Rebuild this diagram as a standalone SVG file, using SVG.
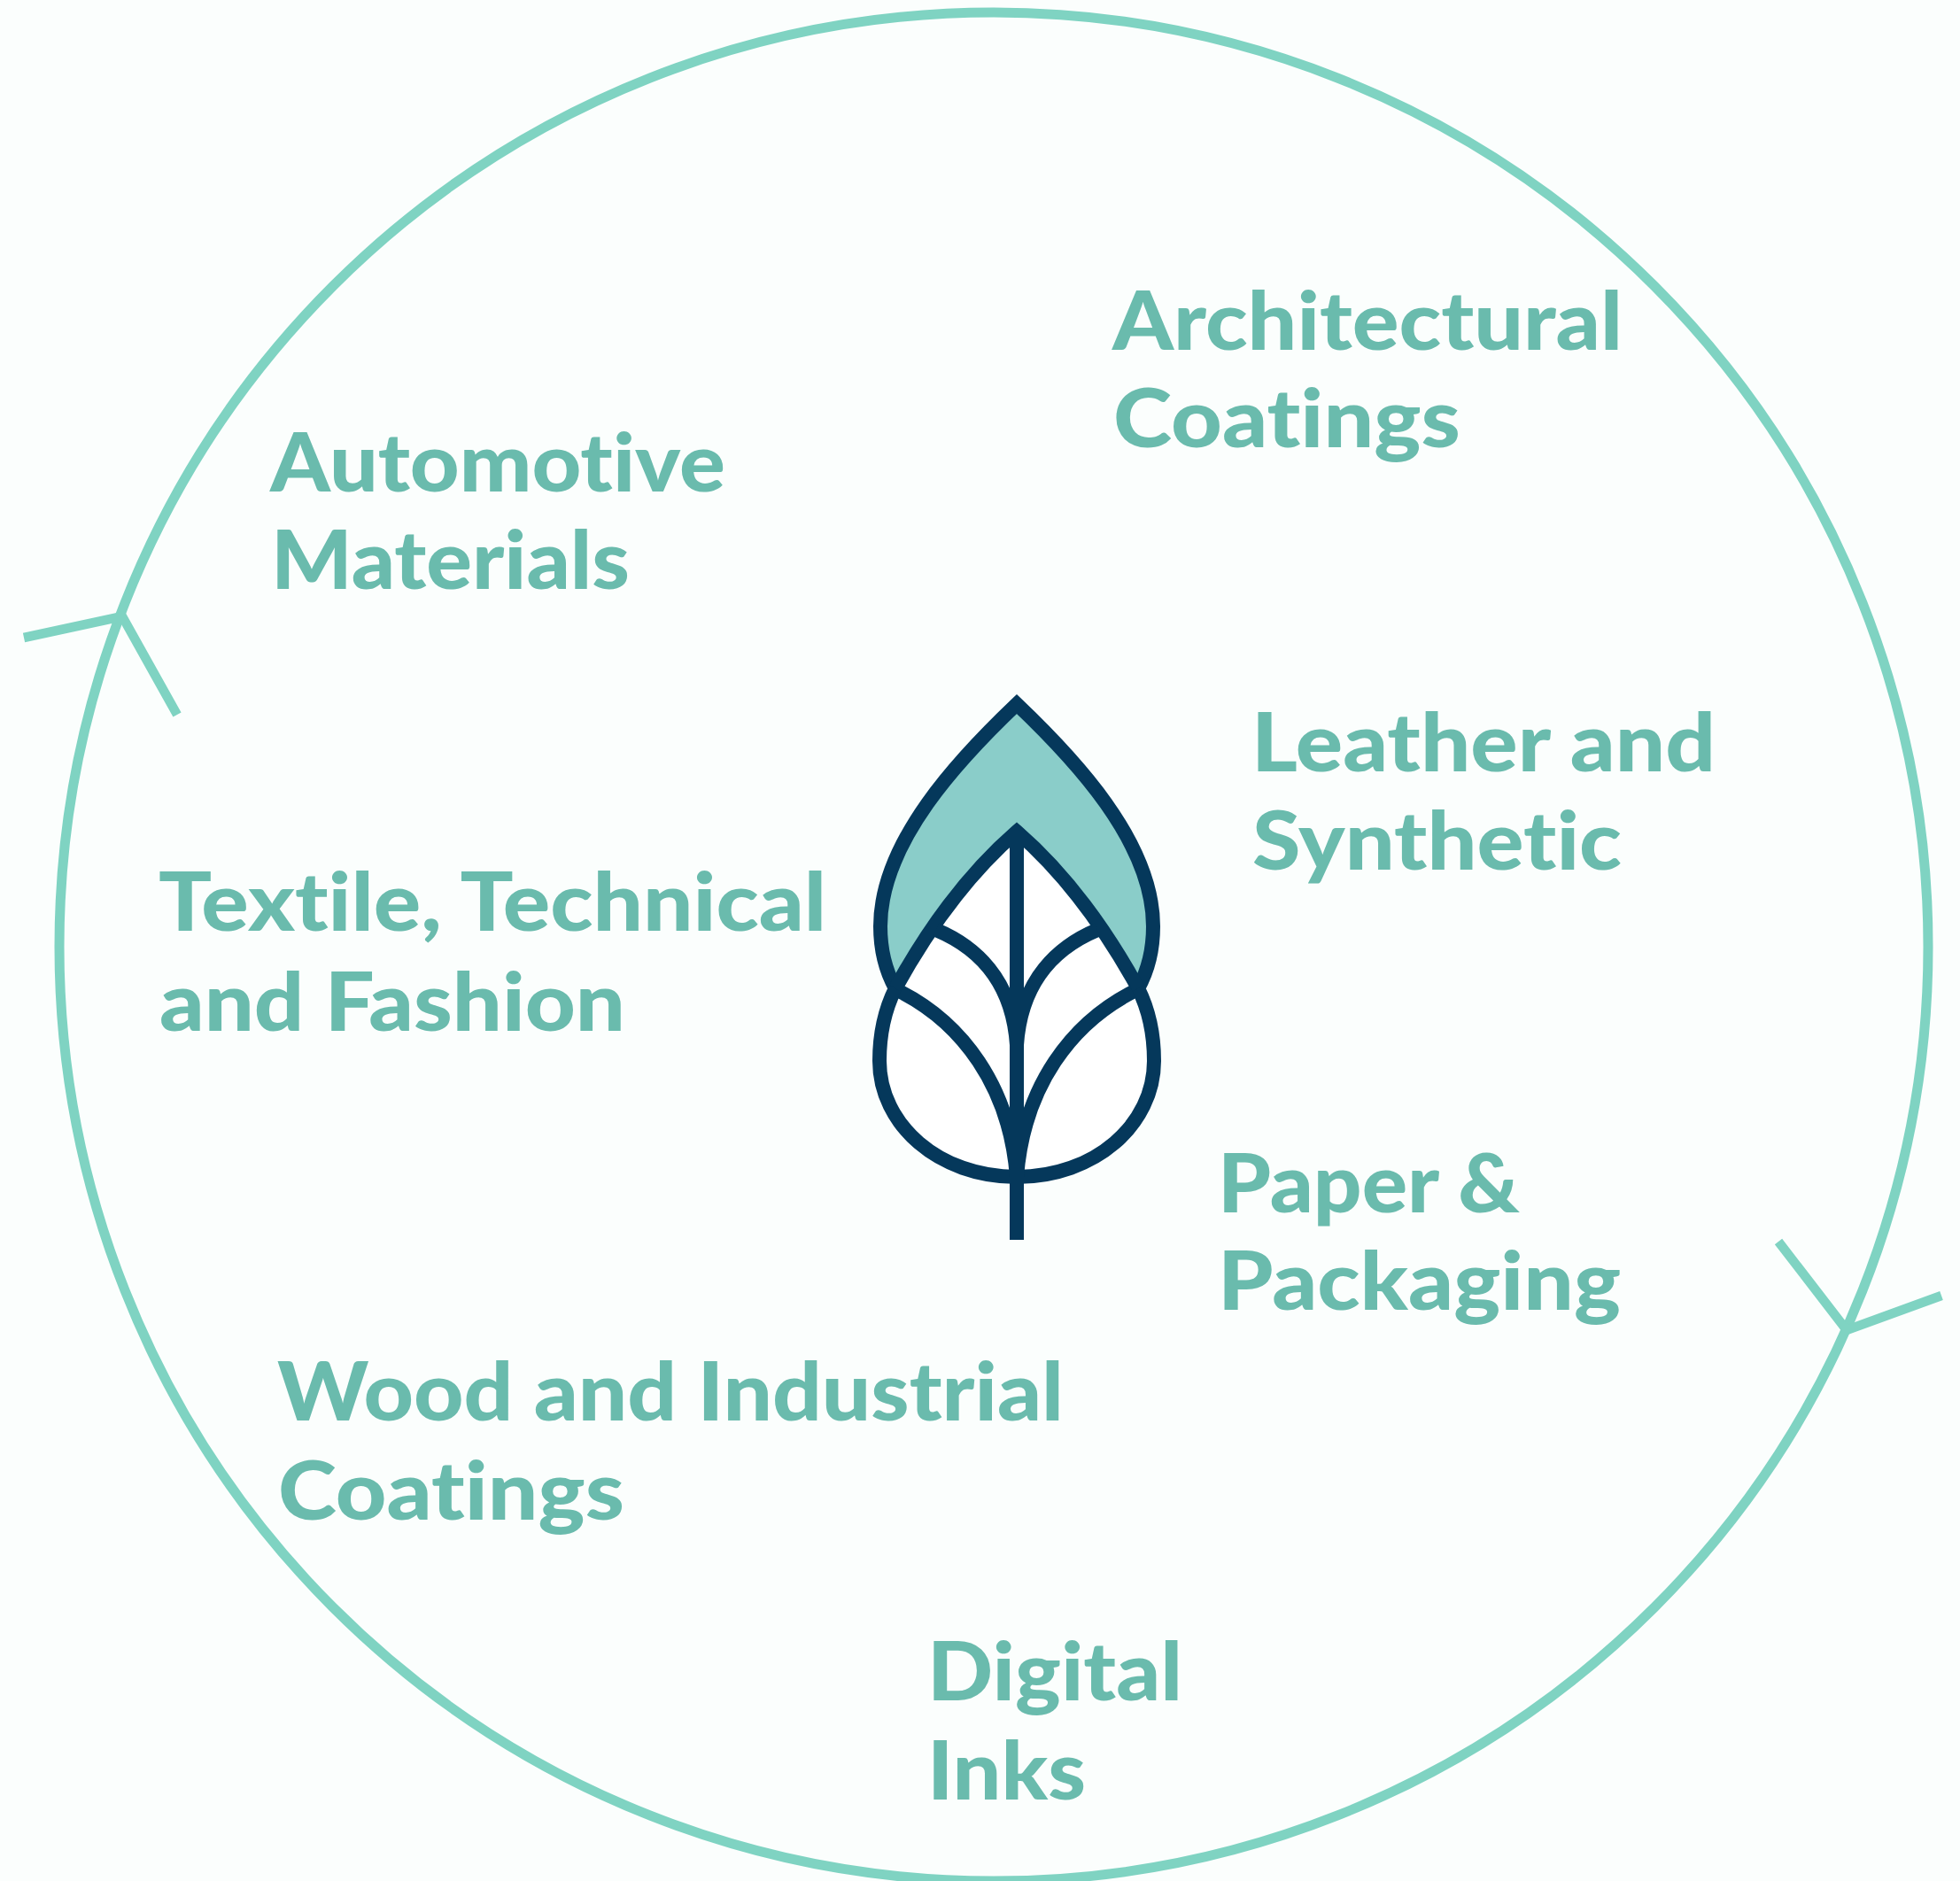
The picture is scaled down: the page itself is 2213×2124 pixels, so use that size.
<svg xmlns="http://www.w3.org/2000/svg" width="2213" height="2124" viewBox="0 0 2213 2124">
<style>
.t{font-family:"Lato","Noto Sans",sans-serif;font-weight:900;font-size:92px;fill:#6abbad;font-variant-ligatures:none}
.c{fill:none;stroke:#7fd3c2;stroke-width:11}
.b{fill:none;stroke:#7fd3c2;stroke-width:10.5}
.l{fill:none;stroke:#05385b;stroke-width:16;stroke-linejoin:miter}
</style>
<rect width="2213" height="2124" fill="#fbfefd"/>
<g id="connectors">
<circle class="c" cx="1122" cy="1069" r="1055"/>
<path class="b" d="M27 720L138 696L200 807"/>
<path class="b" d="M2008 1402L2085 1502L2192 1463"/>
</g>
<g id="leaf">
<path d="M1148 795C1085 855 994 950 994 1046C994 1075 1001 1098 1011 1116C999 1140 993 1170 993 1198C993 1270 1060 1329 1148 1329C1236 1329 1303 1270 1303 1198C1303 1170 1297 1140 1285 1116C1295 1098 1302 1075 1302 1046C1302 950 1211 855 1148 795Z" fill="#fff"/>
<path d="M1148 795C1085 855 994 950 994 1046C994 1075 1001 1098 1011 1116C1050 1045 1095 985 1148 939C1201 985 1246 1045 1285 1116C1295 1098 1302 1075 1302 1046C1302 950 1211 855 1148 795Z" fill="#8acdc9"/>
<path class="l" d="M1148 795C1085 855 994 950 994 1046C994 1075 1001 1098 1011 1116C999 1140 993 1170 993 1198C993 1270 1060 1329 1148 1329C1236 1329 1303 1270 1303 1198C1303 1170 1297 1140 1285 1116C1295 1098 1302 1075 1302 1046C1302 950 1211 855 1148 795Z"/>
<path class="l" d="M1011 1116C1050 1045 1095 985 1148 939C1201 985 1246 1045 1285 1116"/>
<path class="l" d="M1057 1050C1100 1068 1143 1105 1148 1180M1239 1050C1196 1068 1153 1105 1148 1180"/>
<path class="l" d="M1017 1120C1085 1155 1140 1225 1148 1329M1279 1120C1211 1155 1156 1225 1148 1329"/>
<path d="M1140 945H1156V1400H1140Z" fill="#05385b"/>
</g>
<g id="architectural"><text class="t" x="1256" y="395" textLength="576" lengthAdjust="spacingAndGlyphs">Architectural</text><text class="t" x="1257" y="505" textLength="392" lengthAdjust="spacingAndGlyphs">Coatings</text></g>
<g id="automotive"><text class="t" x="305" y="555" textLength="514" lengthAdjust="spacingAndGlyphs">Automotive</text><text class="t" x="306" y="665" textLength="405" lengthAdjust="spacingAndGlyphs">Materials</text></g>
<g id="leather"><text class="t" x="1413" y="871" textLength="524" lengthAdjust="spacingAndGlyphs">Leather and</text><text class="t" x="1414" y="982" textLength="417" lengthAdjust="spacingAndGlyphs">Synthetic</text></g>
<g id="textile"><text class="t" x="179" y="1051" textLength="754" lengthAdjust="spacingAndGlyphs">Textile, Technical</text><text class="t" x="180" y="1164" textLength="526" lengthAdjust="spacingAndGlyphs">and Fashion</text></g>
<g id="paper"><text class="t" x="1375" y="1369" textLength="341" lengthAdjust="spacingAndGlyphs">Paper &amp;</text><text class="t" x="1375" y="1479" textLength="455" lengthAdjust="spacingAndGlyphs">Packaging</text></g>
<g id="wood"><text class="t" x="313" y="1604" textLength="888" lengthAdjust="spacingAndGlyphs">Wood and Industrial</text><text class="t" x="314" y="1716" textLength="391" lengthAdjust="spacingAndGlyphs">Coatings</text></g>
<g id="digital"><text class="t" x="1047" y="1920" textLength="288" lengthAdjust="spacingAndGlyphs">Digital</text><text class="t" x="1047" y="2032" textLength="179" lengthAdjust="spacingAndGlyphs">Inks</text></g>
</svg>
